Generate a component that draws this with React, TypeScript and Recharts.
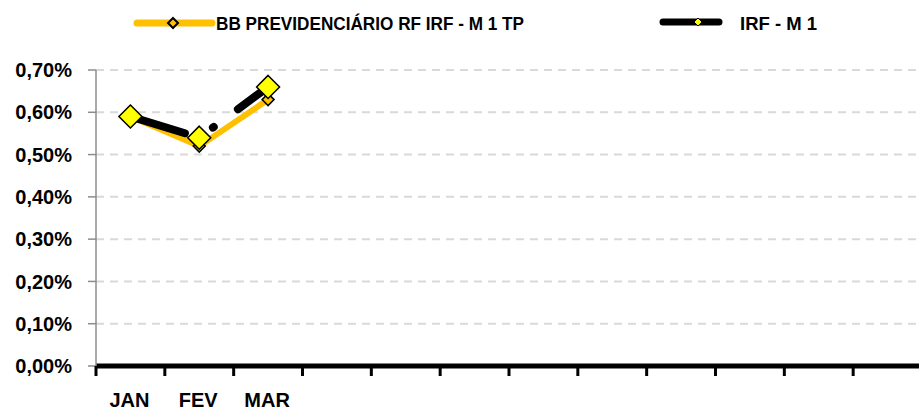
import React from 'react';
import { LineChart, Line, XAxis, YAxis, CartesianGrid, Legend } from 'recharts';

const slotCount = 12;
const monthLabels = ['JAN', 'FEV', 'MAR'];
const fundValues = [0.59, 0.52, 0.63];
const benchValues = [0.59, 0.54, 0.66];
const yTicks = [0, 0.1, 0.2, 0.3, 0.4, 0.5, 0.6, 0.7];
const seriesNames = ['BB PREVIDENCIÁRIO RF IRF - M 1 TP', 'IRF - M 1'];

const data = monthLabels.map((m, i) => ({
  x: i + 0.5,
  month: m,
  fund: fundValues[i],
  bench: benchValues[i],
}));

const xTicks: number[] = [];
for (let i = 0; i <= slotCount; i++) xTicks.push(i);
for (let i = 0; i < slotCount; i++) xTicks.push(i + 0.5);
xTicks.sort((a, b) => a - b);

const FONT = '"Liberation Sans", Arial, sans-serif';
const ORANGE = '#FFC000';
const YELLOW = '#FFFF00';

const diamondPath = (cx: number, cy: number, r: number) =>
  `M${cx},${cy - r} L${cx + r},${cy} L${cx},${cy + r} L${cx - r},${cy} Z`;

const makeDiamond = (r: number, fill: string, sw: number) => (props: any) => {
  const { cx, cy, index } = props;
  if (cx == null || cy == null) return <g key={`d-${index}`} />;
  return (
    <path key={`d-${index}`} d={diamondPath(cx, cy, r)} fill={fill} stroke="#000" strokeWidth={sw} strokeLinejoin="miter" />
  );
};

const XTick = (props: any) => {
  const { x, y, payload } = props;
  const v = payload.value as number;
  if (Number.isInteger(v)) {
    return <line x1={x} x2={x} y1={y} y2={y + 10} stroke="#000" strokeWidth={3} />;
  }
  const label = monthLabels[Math.floor(v)];
  if (!label) return <g />;
  return (
    <text x={x - 1} y={y + 41} textAnchor="middle" fontSize={20} fontWeight="bold" fontFamily={FONT} fill="#000">
      {label}
    </text>
  );
};

const LegendContent = () => (
  <svg width={919} height={45} style={{ display: 'block' }}>
    <line x1={137} x2={212} y1={23} y2={23} stroke={ORANGE} strokeWidth={7} strokeLinecap="round" />
    <path d={diamondPath(173, 23, 5)} fill={ORANGE} stroke="#000" strokeWidth={2} />
    <text x={216} y={29.5} fontSize={18.5} fontWeight="bold" fontFamily={FONT} fill="#000" textLength={308} lengthAdjust="spacingAndGlyphs">
      {seriesNames[0]}
    </text>
    <line x1={663} x2={719} y1={22} y2={22} stroke="#000" strokeWidth={7} strokeLinecap="round" />
    <path d={diamondPath(698, 22, 4)} fill={YELLOW} stroke="#000" strokeWidth={1} />
    <text x={740} y={29.5} fontSize={18.5} fontWeight="bold" fontFamily={FONT} fill="#000">
      {seriesNames[1]}
    </text>
  </svg>
);

export default function App() {
  return (
    <div style={{ position: 'absolute', left: 0, top: 0, width: 919, height: 411, overflow: 'hidden', background: '#fff' }}>
      <LineChart width={922} height={411} data={data} margin={{ top: 25, right: 0, left: 0, bottom: 0 }}>
        <CartesianGrid vertical={false} stroke="#D9D9D9" strokeWidth={2} strokeDasharray="8 6" />
        <XAxis
          dataKey="x"
          type="number"
          domain={[0, slotCount]}
          ticks={xTicks}
          interval={0}
          tick={<XTick />}
          tickLine={false}
          tickSize={0}
          tickMargin={0}
          height={45}
          axisLine={{ stroke: '#000', strokeWidth: 5 }}
        />
        <YAxis
          type="number"
          domain={[0, 0.7]}
          ticks={yTicks}
          interval={0}
          width={96}
          tickSize={8}
          tickMargin={16}
          axisLine={{ stroke: '#8C8C8C', strokeWidth: 1.5 }}
          tickLine={{ stroke: '#8C8C8C', strokeWidth: 1.5 }}
          tick={{ fill: '#000', fontSize: 20, fontWeight: 'bold', fontFamily: FONT }}
          tickFormatter={(v: number) => v.toFixed(2).replace('.', ',') + '%'}
        />
        <Legend
          layout="horizontal"
          verticalAlign="top"
          align="center"
          content={<LegendContent />}
          wrapperStyle={{ position: 'absolute', top: 0, left: 0, width: 919, height: 45 }}
        />
        <Line
          name={seriesNames[0]}
          dataKey="fund"
          stroke={ORANGE}
          strokeWidth={6}
          strokeLinejoin="round"
          dot={makeDiamond(6, ORANGE, 1.5)}
          activeDot={false}
          isAnimationActive={false}
        />
        <Line
          name={seriesNames[1]}
          dataKey="bench"
          stroke="#000"
          strokeWidth={8}
          strokeLinecap="round"
          strokeDasharray="57 32 1 30"
          dot={makeDiamond(11.5, YELLOW, 1.5)}
          activeDot={false}
          isAnimationActive={false}
        />
      </LineChart>
    </div>
  );
}
